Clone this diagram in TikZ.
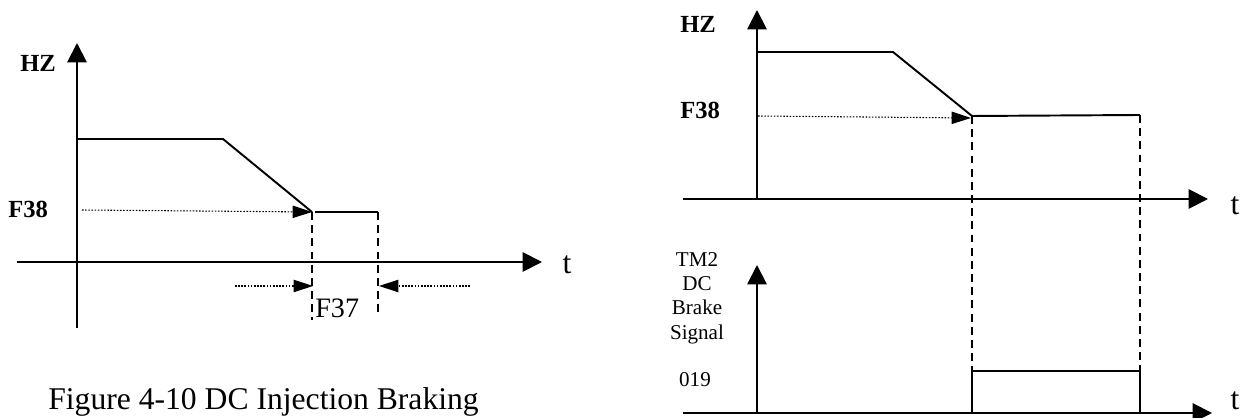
\documentclass[tikz,border=0pt]{standalone}
\usepackage{fontspec}
\setmainfont{Liberation Serif}
\usetikzlibrary{arrows.meta}
\tikzset{
	axis/.style={line width=1.1pt, -{Triangle[length=11pt, width=11pt]}},
	level/.style={line width=1.1pt},
	guide/.style={line width=1.1pt, dash pattern=on 4.5pt off 3pt},
	pointer/.style={line width=0.6pt, dash pattern=on 0.9pt off 0.9pt, -{Triangle[length=11pt, width=7pt]}},
	boldlbl/.style={inner sep=0pt, anchor=base west, font=\fontsize{14}{16}\selectfont\bfseries},
	tlbl/.style={inner sep=0pt, anchor=base, font=\fontsize{18}{20}\selectfont},
}
\begin{document}
\begin{tikzpicture}[x=0.02cm, y=-0.02cm]
			\clip (0,0) rectangle (1242,418);
			\useasboundingbox (0,0) rectangle (1242,418);

			% left chart: HZ against t
			\coordinate (lybot) at (77,328);
			\coordinate (lytop) at (77,43);
			\coordinate (lxl) at (17,262);
			\coordinate (lxr) at (542,262);
			\draw[axis] (lybot) -- (lytop);
			\draw[axis] (lxl) -- (lxr);

			\coordinate (lhi) at (77,139);
			\coordinate (lknee) at (223,139);
			\coordinate (lf) at (312,212);
			\coordinate (lon) at (315,212);
			\coordinate (loff) at (378,212);
			\draw[level] (lhi) -- (lknee) -- (lf);
			\draw[level] (lon) -- (loff);
			\draw[guide] (lf) -- (312,320);
			\draw[guide] (loff) -- (378,315);

			\node[boldlbl] (lhz) at (20,72) {HZ};
			\node[boldlbl] (lf38) at (8,218) {F38};
			\coordinate (lfsrc) at (82,210);
			\draw[pointer] (lfsrc) -- (lf);

			% F37 span
			\coordinate (lsl) at (235,286);
			\coordinate (lsr) at (470,286);
			\draw[pointer] (lsl) -- (313,286);
			\draw[pointer] (lsr) -- (379,286);
			\node[inner sep=0pt, anchor=base west, font=\fontsize{16}{18}\selectfont] (f37) at (315,318) {F37};
			\node[tlbl] (lt) at (567,274) {t};

			\node[inner sep=0pt, anchor=base west, font=\fontsize{18}{20}\selectfont] (caption) at (48,410) {Figure 4-10 DC Injection Braking};

			% right chart, upper: HZ against t
			\coordinate (uybot) at (757,200);
			\coordinate (uytop) at (757,10);
			\coordinate (uxl) at (683,199);
			\coordinate (uxr) at (1208,199);
			\draw[axis] (uybot) -- (uytop);
			\draw[axis] (uxl) -- (uxr);

			\coordinate (uhi) at (757,52);
			\coordinate (uknee) at (893,52);
			\coordinate (uf) at (972,116);
			\coordinate (uoff) at (1140,115);
			\draw[level] (uhi) -- (uknee) -- (uf) -- (uoff);

			\node[boldlbl] (uhz) at (680,33) {HZ};
			\node[boldlbl] (uf38) at (680,119) {F38};
			\coordinate (ufsrc) at (758,116);
			\draw[pointer] (ufsrc) -- (971,118);
			\node[tlbl] (ut) at (1235,215) {t};

			% right chart, lower: brake signal
			\coordinate (bybot) at (757,413);
			\coordinate (bytop) at (757,265);
			\coordinate (bxl) at (683,413);
			\coordinate (bxr) at (1212,413);
			\draw[axis] (bybot) -- (bytop);
			\draw[axis] (bxl) -- (bxr);

			\coordinate (bup) at (972,371);
			\coordinate (bdown) at (1140,371);
			\draw[level] (972,413) -- (bup) -- (bdown) -- (1140,413);
			\draw[guide] (uf) -- (bup);
			\draw[guide] (uoff) -- (bdown);

			\node[inner sep=0pt, anchor=north, align=center, font=\fontsize{12}{13.8}\selectfont] (sig) at (697,252) {TM2\\DC\\Brake\\Signal};
			\node[inner sep=0pt, anchor=base, font=\fontsize{12}{14}\selectfont] (s019) at (695,387) {019};
			\node[tlbl] (bt) at (1235,410) {t};

		\end{tikzpicture}
\end{document}
